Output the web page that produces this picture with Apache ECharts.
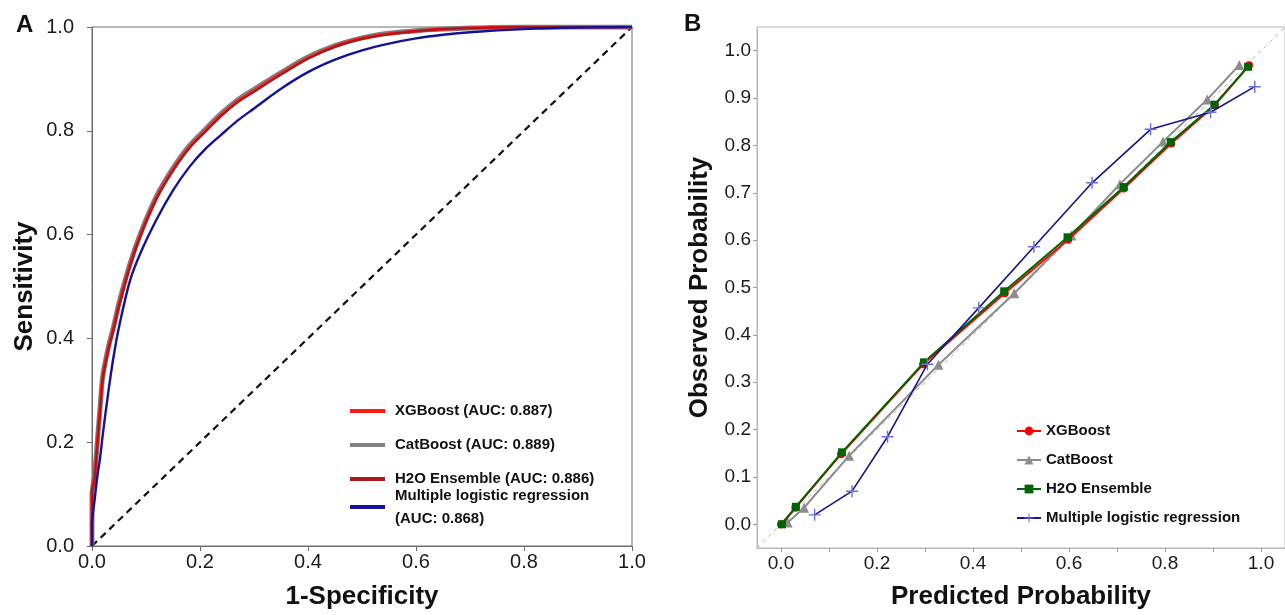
<!DOCTYPE html>
<html>
<head>
<meta charset="utf-8">
<script src="https://cdn.jsdelivr.net/npm/echarts@6/dist/echarts.min.js"></script>
<style>
html,body{margin:0;padding:0;background:#fff;}
#c{width:1285px;height:615px;}
</style>
</head>
<body>
<div id="c"></div>
<script>
// ---------- Panel A: ROC curves ----------
const rocFpr = [0, 0, 0.005, 0.01, 0.015, 0.02, 0.03, 0.04, 0.05, 0.07, 0.09, 0.12, 0.15, 0.18, 0.21, 0.24, 0.27, 0.30, 0.35, 0.40, 0.45, 0.50, 0.55, 0.60, 0.65, 0.70, 0.80, 0.90, 1.0];
const rocXgb = [0, 0.10, 0.135, 0.20, 0.265, 0.325, 0.379, 0.42, 0.465, 0.54, 0.60, 0.672, 0.725, 0.768, 0.80, 0.831, 0.857, 0.877, 0.91, 0.94, 0.963, 0.978, 0.987, 0.992, 0.996, 0.998, 1.0, 1.0, 1.0];
const rocCat = [0, 0.10, 0.138, 0.203, 0.268, 0.328, 0.382, 0.423, 0.468, 0.543, 0.603, 0.675, 0.728, 0.771, 0.803, 0.834, 0.860, 0.880, 0.912, 0.942, 0.964, 0.979, 0.988, 0.993, 0.996, 0.998, 1.0, 1.0, 1.0];
const rocH2o = [0, 0.10, 0.133, 0.198, 0.262, 0.322, 0.376, 0.418, 0.462, 0.537, 0.598, 0.670, 0.723, 0.766, 0.798, 0.829, 0.855, 0.875, 0.908, 0.939, 0.962, 0.977, 0.986, 0.992, 0.996, 0.998, 1.0, 1.0, 1.0];
const rocMlr = [0, 0.04, 0.09, 0.135, 0.17, 0.215, 0.295, 0.365, 0.422, 0.51, 0.565, 0.63, 0.685, 0.73, 0.765, 0.793, 0.82, 0.843, 0.881, 0.913, 0.937, 0.955, 0.968, 0.978, 0.985, 0.990, 0.996, 0.999, 1.0];
const rocNames = ['XGBoost (AUC: 0.887)', 'CatBoost (AUC: 0.889)', 'H2O Ensemble (AUC: 0.886)', 'Multiple logistic regression\n(AUC: 0.868)'];
const rocTicks = [0, 0.2, 0.4, 0.6, 0.8, 1.0];

// ---------- Panel B: calibration ----------
const calNames = ['XGBoost', 'CatBoost', 'H2O Ensemble', 'Multiple logistic regression'];
const xgbPred = [0.0, 0.030, 0.125, 0.296, 0.466, 0.598, 0.714, 0.813, 0.904, 0.975];
const xgbObs  = [0.0, 0.035, 0.148, 0.338, 0.488, 0.601, 0.709, 0.804, 0.885, 0.969];
const catPred = [0.014, 0.048, 0.142, 0.328, 0.486, 0.605, 0.706, 0.796, 0.888, 0.955];
const catObs  = [0.004, 0.035, 0.145, 0.337, 0.488, 0.610, 0.718, 0.808, 0.897, 0.970];
const h2oPred = [0.002, 0.031, 0.127, 0.298, 0.465, 0.597, 0.714, 0.812, 0.903, 0.973];
const h2oObs  = [0.0, 0.037, 0.152, 0.342, 0.492, 0.606, 0.712, 0.807, 0.886, 0.966];
const mlrPred = [0.070, 0.148, 0.222, 0.305, 0.412, 0.527, 0.648, 0.770, 0.895, 0.987];
const mlrObs  = [0.020, 0.070, 0.185, 0.338, 0.457, 0.586, 0.721, 0.834, 0.870, 0.924];
const calXLabels = [0, 0.2, 0.4, 0.6, 0.8, 1.0];
const calXTicks = [0, 0.1, 0.2, 0.3, 0.4, 0.5, 0.6, 0.7, 0.8, 0.9, 1.0];
const calYTicks = [0, 0.1, 0.2, 0.3, 0.4, 0.5, 0.6, 0.7, 0.8, 0.9, 1.0];

const zip = (a, b) => a.map((v, i) => [v, b[i]]);
const FONT = 'Liberation Sans, Arial, Helvetica, sans-serif';
const fmt1 = v => Number(v).toFixed(1);

const chart = echarts.init(document.getElementById('c'), null, {renderer: 'canvas'});

const axisTitle = {fontFamily: FONT, fontSize: 26, fontWeight: 'bold', color: '#111'};
const tickLbl = (size) => ({fontFamily: FONT, fontSize: size, color: '#1a1a1a', formatter: fmt1});

const plusPath = 'path://M4.4,0H5.6V4.4H10V5.6H5.6V10H4.4V5.6H0V4.4H4.4Z';

const legendA = (name, top, lh) => ({
  orient: 'vertical', left: 345, top: top,
  data: [name],
  icon: 'rect',
  itemWidth: 35, itemHeight: 4, itemGap: 0,
  selectedMode: false,
  textStyle: {fontFamily: FONT, fontSize: 15, fontWeight: 'bold', color: '#111', lineHeight: lh, padding: [0, 0, 0, 5]}
});

const option = {
  animation: false,
  backgroundColor: '#ffffff',
  graphic: [
    {type: 'text', left: 16, top: 13, style: {text: 'A', font: 'bold 24px ' + FONT, fill: '#111'}},
    {type: 'text', left: 684, top: 12, style: {text: 'B', font: 'bold 24px ' + FONT, fill: '#111'}}
  ],
  legend: [
    legendA(rocNames[0], 397, 18),
    legendA(rocNames[1], 431, 18),
    legendA(rocNames[2], 465, 18),
    legendA(rocNames[3], 479, 23),
    {
      orient: 'vertical', left: 1011, top: 417,
      data: calNames,
      itemWidth: 24, itemHeight: 11, itemGap: 11,
      selectedMode: false,
      textStyle: {fontFamily: FONT, fontSize: 15, fontWeight: 'bold', color: '#111', lineHeight: 18}
    }
  ],
  grid: [
    {left: 92, top: 27, width: 540, height: 520, show: true, borderColor: '#6e6e6e', borderWidth: 1, backgroundColor: 'transparent'},
    {left: 757, top: 27, width: 536, height: 522, show: true, borderColor: '#b8b8b8', borderWidth: 1, backgroundColor: 'transparent'}
  ],
  xAxis: [
    {
      type: 'value', gridIndex: 0, min: 0, max: 1, interval: 0.2,
      name: '1-Specificity', nameLocation: 'middle', nameGap: 38, nameTextStyle: axisTitle,
      axisLine: {show: true, lineStyle: {color: '#6e6e6e', width: 1}},
      axisTick: {show: true, length: 5, lineStyle: {color: '#6e6e6e'}},
      axisLabel: Object.assign(tickLbl(20), {margin: 6}),
      splitLine: {show: false}
    },
    {
      type: 'value', gridIndex: 1, min: -0.05, max: 1.05,
      name: 'Predicted Probability', nameLocation: 'middle', nameGap: 36, nameTextStyle: axisTitle,
      axisLine: {show: true, onZero: false, lineStyle: {color: '#b8b8b8', width: 1}},
      axisTick: {show: true, length: 4, customValues: calXTicks, lineStyle: {color: '#9a9a9a'}},
      axisLabel: Object.assign(tickLbl(19), {margin: 6, customValues: calXLabels}),
      splitLine: {show: false}
    }
  ],
  yAxis: [
    {
      type: 'value', gridIndex: 0, min: 0, max: 1, interval: 0.2,
      name: 'Sensitivity', nameLocation: 'middle', nameGap: 54, nameTextStyle: axisTitle,
      axisLine: {show: true, lineStyle: {color: '#6e6e6e', width: 1}},
      axisTick: {show: true, length: 5, lineStyle: {color: '#6e6e6e'}},
      axisLabel: Object.assign(tickLbl(20), {margin: 18}),
      splitLine: {show: false}
    },
    {
      type: 'value', gridIndex: 1, min: -0.05, max: 1.05,
      name: 'Observed Probability', nameLocation: 'middle', nameGap: 44, nameTextStyle: axisTitle,
      axisLine: {show: true, onZero: false, lineStyle: {color: '#b8b8b8', width: 1}},
      axisTick: {show: true, length: 4, customValues: calYTicks, lineStyle: {color: '#9a9a9a'}},
      axisLabel: Object.assign(tickLbl(19), {margin: 6, customValues: calYTicks}),
      splitLine: {show: false}
    }
  ],
  series: [
    // Panel A
    {name: 'diagA', type: 'line', xAxisIndex: 0, yAxisIndex: 0, data: [[0, 0], [1, 1]], symbol: 'none', silent: true,
      lineStyle: {color: '#111', width: 2.2, type: [7, 5]}, z: 1},
    {name: rocNames[1], type: 'line', xAxisIndex: 0, yAxisIndex: 0, data: zip(rocFpr, rocCat), symbol: 'none', smooth: 0.3,
      color: '#808080', lineStyle: {color: '#808080', width: 5}, z: 2},
    {name: rocNames[0], type: 'line', xAxisIndex: 0, yAxisIndex: 0, data: zip(rocFpr, rocXgb), symbol: 'none', smooth: 0.3,
      color: '#ff1a1a', lineStyle: {color: '#ff1a1a', width: 3.2}, z: 3},
    {name: rocNames[2], type: 'line', xAxisIndex: 0, yAxisIndex: 0, data: zip(rocFpr, rocH2o), symbol: 'none', smooth: 0.3,
      color: '#a81818', lineStyle: {color: '#a81818', width: 2}, z: 4},
    {name: rocNames[3], type: 'line', xAxisIndex: 0, yAxisIndex: 0, data: zip(rocFpr, rocMlr), symbol: 'none', smooth: 0.3,
      color: '#12129a', lineStyle: {color: '#12129a', width: 2.4}, z: 5},
    // Panel B
    {name: 'diagB', type: 'line', xAxisIndex: 1, yAxisIndex: 1, data: [[-0.05, -0.05], [1.05, 1.05]], symbol: 'none', silent: true,
      lineStyle: {color: '#b0b0b0', width: 1, type: [4, 4]}, z: 1},
    {name: calNames[1], type: 'line', xAxisIndex: 1, yAxisIndex: 1, data: zip(catPred, catObs),
      symbol: 'triangle', symbolSize: 10, color: '#8c8c8c',
      itemStyle: {color: '#8c8c8c'}, lineStyle: {color: '#8c8c8c', width: 2}, z: 2},
    {name: calNames[0], type: 'line', xAxisIndex: 1, yAxisIndex: 1, data: zip(xgbPred, xgbObs),
      symbol: 'circle', symbolSize: 8, color: '#ff0000',
      itemStyle: {color: '#ff0000'}, lineStyle: {color: '#ff0000', width: 2}, z: 3},
    {name: calNames[2], type: 'line', xAxisIndex: 1, yAxisIndex: 1, data: zip(h2oPred, h2oObs),
      symbol: 'rect', symbolSize: 8, color: '#006400',
      itemStyle: {color: '#006400'}, lineStyle: {color: '#006400', width: 2}, z: 4},
    {name: calNames[3], type: 'line', xAxisIndex: 1, yAxisIndex: 1, data: zip(mlrPred, mlrObs),
      symbol: plusPath, symbolSize: 12, color: '#2a2aa8',
      itemStyle: {color: '#6f6fd6'}, lineStyle: {color: '#14148c', width: 1.6}, z: 5}
  ]
};
chart.setOption(option);
</script>
</body>
</html>
